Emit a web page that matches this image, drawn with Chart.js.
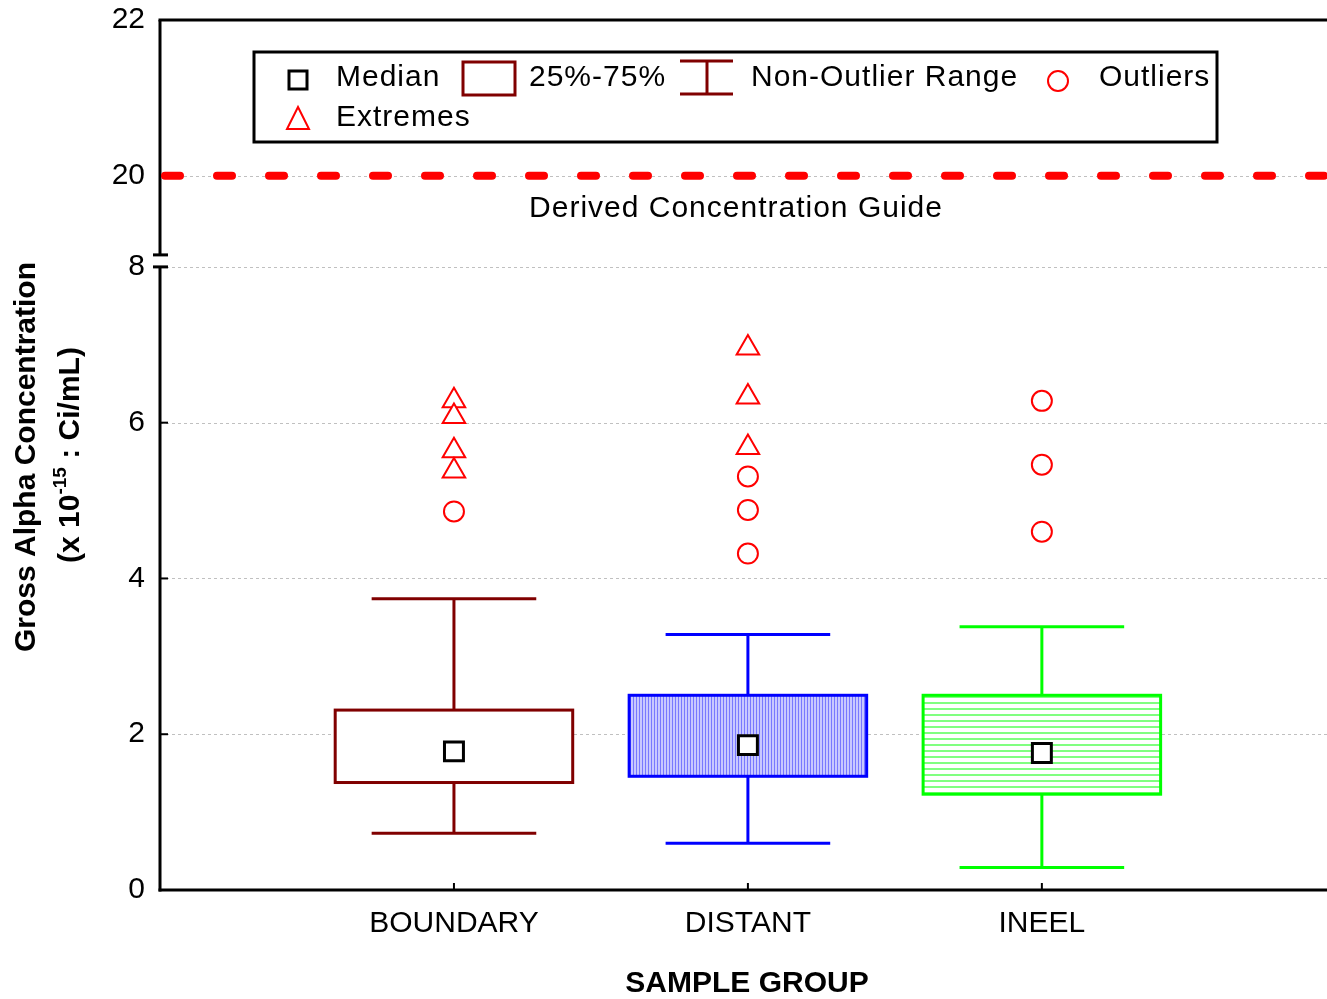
<!DOCTYPE html>
<html>
<head>
<meta charset="utf-8">
<title>Gross Alpha Concentration by Sample Group</title>
<script src="https://cdn.jsdelivr.net/npm/chart.js@4.4.0/dist/chart.umd.min.js"></script>
<style>
  html, body { margin: 0; padding: 0; background: #fff; }
  #chart { display: block; }
</style>
</head>
<body>
<canvas id="chart" width="1327" height="999"></canvas>
<script>
// Values (x 10^-15 uCi/mL)
const groups = ['BOUNDARY', 'DISTANT', 'INEEL'];
const whiskerLow = [0.73, 0.60, 0.29];
const quartile1 = [1.38, 1.46, 1.23];
const medians = [1.78, 1.86, 1.76];
const quartile3 = [2.31, 2.50, 2.50];
const whiskerHigh = [3.74, 3.28, 3.38];
const outliers = [[4.86], [5.31, 4.88, 4.32], [6.28, 5.46, 4.60]];
const extremes = [[6.28, 6.08, 5.64, 5.38], [6.96, 6.33, 5.68], []];

const yTickValues = [0, 2, 4, 6, 8, 20, 22];
const guideValue = 20;
const guideLabel = 'Derived Concentration Guide';

// Colours per group
const boxColors = ['#800000', '#0000ff', '#00ff00'];

// Broken axis: 0-8 to scale, then a jump up to 20-22
const BREAK_LOW = 8;
const BREAK_HIGH = 20;
const BREAK_GAP = 1.17;
function toAxis(v) {
    return v <= BREAK_LOW ? v : v - BREAK_HIGH + BREAK_LOW + BREAK_GAP;
}

const BOX_HALF = 0.404;
const CAP_HALF = 0.28;
const FONT = '"Liberation Sans", Arial, sans-serif';

function pointsFor(list) {
    const pts = [];
    list.forEach((vals, i) => vals.forEach(v => pts.push({ x: i + 1, y: toAxis(v) })));
    return pts;
}

function makePattern(ctx, kind) {
    const c = document.createElement('canvas');
    const p = c.getContext('2d');
    if (kind === 'vertical') {
        c.width = 3; c.height = 1;
        p.fillStyle = '#c8c8ff';
        p.fillRect(0, 0, 3, 1);
        p.fillStyle = '#7878ff';
        p.fillRect(0, 0, 1, 1);
    } else if (kind === 'horizontal') {
        c.width = 1; c.height = 6;
        p.fillStyle = '#ffffff';
        p.fillRect(0, 0, 1, 6);
        p.fillStyle = '#80ff80';
        p.fillRect(0, 0, 1, 2);
    } else {
        c.width = 1; c.height = 1;
        p.fillStyle = '#ffffff';
        p.fillRect(0, 0, 1, 1);
    }
    return ctx.createPattern(c, 'repeat');
}

function line(ctx, x1, y1, x2, y2) {
    ctx.beginPath();
    ctx.moveTo(x1, y1);
    ctx.lineTo(x2, y2);
    ctx.stroke();
}

// Boxes, whiskers, grid and all the decoration that Chart.js has no element for
const boxPlot = {
    id: 'boxPlot',
    beforeDatasetsDraw(chart) {
        const { ctx, chartArea: a, scales: { x, y } } = chart;
        const fills = [makePattern(ctx, 'plain'), makePattern(ctx, 'vertical'), makePattern(ctx, 'horizontal')];
        ctx.save();

        // dotted grid
        ctx.strokeStyle = '#c0c0c0';
        ctx.lineWidth = 1;
        ctx.setLineDash([3, 3]);
        yTickValues.slice(1, -1).forEach(v => {
            const py = Math.round(y.getPixelForValue(toAxis(v))) + 0.5;
            line(ctx, a.left, py, a.right, py);
        });
        ctx.setLineDash([]);

        groups.forEach((g, i) => {
            const cx = x.getPixelForValue(i + 1);
            const hw = x.getPixelForValue(i + 1 + BOX_HALF) - cx;
            const cw = x.getPixelForValue(i + 1 + CAP_HALF) - cx;
            const yLo = y.getPixelForValue(whiskerLow[i]);
            const yQ1 = y.getPixelForValue(quartile1[i]);
            const yQ3 = y.getPixelForValue(quartile3[i]);
            const yHi = y.getPixelForValue(whiskerHigh[i]);

            ctx.strokeStyle = boxColors[i];
            ctx.lineWidth = 3;
            line(ctx, cx, yHi, cx, yQ3);
            line(ctx, cx, yQ1, cx, yLo);
            line(ctx, cx - cw, yHi, cx + cw, yHi);
            line(ctx, cx - cw, yLo, cx + cw, yLo);

            ctx.fillStyle = fills[i];
            ctx.fillRect(cx - hw, yQ3, 2 * hw, yQ1 - yQ3);
            ctx.strokeRect(cx - hw, yQ3, 2 * hw, yQ1 - yQ3);
        });
        ctx.restore();
    },
    afterDraw(chart) {
        const { ctx, chartArea: a, scales: { x, y } } = chart;
        ctx.save();

        // frame: left axis (with break), bottom axis, top line
        const yBreakHi = y.getPixelForValue(toAxis(BREAK_LOW)) - 12;
        const yBreakLo = y.getPixelForValue(toAxis(BREAK_LOW));
        ctx.strokeStyle = '#000';
        ctx.lineWidth = 3;
        line(ctx, a.left, a.top, a.left, yBreakHi);
        line(ctx, a.left, yBreakLo, a.left, a.bottom + 1.5);
        line(ctx, a.left - 7, yBreakHi, a.left + 8, yBreakHi);
        line(ctx, a.left - 7, yBreakLo, a.left + 8, yBreakLo);
        line(ctx, a.left - 1.5, a.bottom, a.right, a.bottom);
        line(ctx, a.left - 1.5, a.top, a.right, a.top);

        // inside ticks
        ctx.lineWidth = 2;
        yTickValues.forEach(v => {
            if (v === BREAK_LOW || v === 0) return;
            const py = y.getPixelForValue(toAxis(v));
            line(ctx, a.left, py, a.left + 8, py);
        });
        groups.forEach((g, i) => {
            const px = x.getPixelForValue(i + 1);
            line(ctx, px, a.bottom, px, a.bottom - 7);
        });

        // guide line
        const gy = y.getPixelForValue(toAxis(guideValue));
        ctx.strokeStyle = '#ff0000';
        ctx.lineWidth = 8;
        ctx.lineCap = 'round';
        ctx.setLineDash([15, 37]);
        ctx.lineDashOffset = -3;
        line(ctx, a.left + 2, gy, a.right, gy);
        ctx.setLineDash([]);
        ctx.lineCap = 'butt';

        ctx.fillStyle = '#000';
        ctx.font = '30px ' + FONT;
        ctx.letterSpacing = '1px';
        ctx.textAlign = 'center';
        ctx.textBaseline = 'middle';
        ctx.fillText(guideLabel, 736, gy + 33);

        // legend
        ctx.fillStyle = '#fff';
        ctx.fillRect(254, 52, 963, 90);
        ctx.strokeStyle = '#000';
        ctx.lineWidth = 3;
        ctx.strokeRect(254, 52, 963, 90);

        ctx.fillStyle = '#fff';
        ctx.fillRect(289, 71, 18, 18);
        ctx.strokeRect(289, 71, 18, 18);

        ctx.strokeStyle = boxColors[0];
        ctx.strokeRect(463, 62, 52, 33);
        line(ctx, 680, 61, 733, 61);
        line(ctx, 680, 94, 733, 94);
        line(ctx, 707, 61, 707, 94);

        ctx.strokeStyle = '#ff0000';
        ctx.lineWidth = 2;
        ctx.beginPath();
        ctx.arc(1058, 81, 10, 0, Math.PI * 2);
        ctx.stroke();
        ctx.beginPath();
        ctx.moveTo(298, 107);
        ctx.lineTo(309, 129);
        ctx.lineTo(287, 129);
        ctx.closePath();
        ctx.stroke();

        ctx.fillStyle = '#000';
        ctx.textAlign = 'left';
        ctx.fillText('Median', 336, 78);
        ctx.fillText('25%-75%', 529, 78);
        ctx.fillText('Non-Outlier Range', 751, 78);
        ctx.fillText('Outliers', 1099, 78);
        ctx.fillText('Extremes', 336, 118);

        // axis titles
        ctx.font = 'bold 30px ' + FONT;
        ctx.letterSpacing = '0px';
        ctx.textAlign = 'center';
        ctx.fillText('SAMPLE GROUP', 747, 984);

        ctx.save();
        ctx.translate(27, 457);
        ctx.rotate(-Math.PI / 2);
        ctx.fillText('Gross Alpha Concentration', 0, 0);
        ctx.restore();

        ctx.save();
        ctx.translate(71, 455);
        ctx.rotate(-Math.PI / 2);
        const partA = '(x 10';
        const sup = '-15';
        const partB = ' : Ci/mL)';
        ctx.font = 'bold 30px ' + FONT;
        const wA = ctx.measureText(partA).width;
        const wB = ctx.measureText(partB).width;
        ctx.font = 'bold 19px ' + FONT;
        const wS = ctx.measureText(sup).width;
        let tx = -(wA + wS + wB) / 2;
        ctx.textAlign = 'left';
        ctx.font = 'bold 30px ' + FONT;
        ctx.fillText(partA, tx, 0);
        tx += wA;
        ctx.font = 'bold 19px ' + FONT;
        ctx.fillText(sup, tx, -10);
        tx += wS;
        ctx.font = 'bold 30px ' + FONT;
        ctx.fillText(partB, tx, 0);
        ctx.restore();

        ctx.restore();
    }
};

const ctx = document.getElementById('chart').getContext('2d');
new Chart(ctx, {
    type: 'scatter',
    data: {
        datasets: [
            {
                label: 'Outliers',
                data: pointsFor(outliers),
                pointStyle: 'circle',
                pointRadius: 10,
                borderColor: '#ff0000',
                backgroundColor: '#ffffff',
                borderWidth: 2
            },
            {
                label: 'Extremes',
                data: pointsFor(extremes),
                pointStyle: 'triangle',
                pointRadius: 13,
                borderColor: '#ff0000',
                backgroundColor: '#ffffff',
                borderWidth: 2
            },
            {
                label: 'Median',
                data: medians.map((m, i) => ({ x: i + 1, y: toAxis(m) })),
                pointStyle: 'rect',
                pointRadius: 13.4,
                borderColor: '#000000',
                backgroundColor: '#ffffff',
                borderWidth: 3
            }
        ]
    },
    options: {
        responsive: false,
        animation: false,
        layout: { autoPadding: false, padding: { top: 20, left: 0, right: 0, bottom: 0 } },
        plugins: {
            legend: { display: false },
            tooltip: { enabled: false }
        },
        scales: {
            x: {
                type: 'linear',
                min: 0,
                max: 3.97,
                afterBuildTicks: s => { s.ticks = groups.map((g, i) => ({ value: i + 1 })); },
                afterFit: s => { s.height = 109; s.paddingLeft = 0; s.paddingRight = 0; },
                ticks: {
                    callback: (v, i) => groups[i],
                    color: '#000',
                    font: { family: FONT, size: 30 },
                    padding: 16,
                    maxRotation: 0,
                    autoSkip: false
                },
                grid: { display: false, drawTicks: false },
                border: { display: false }
            },
            y: {
                type: 'linear',
                min: 0,
                max: toAxis(22),
                afterBuildTicks: s => { s.ticks = yTickValues.map(v => ({ value: toAxis(v) })); },
                afterFit: s => { s.width = 160; s.paddingTop = 0; s.paddingBottom = 0; },
                ticks: {
                    callback: (v, i) => String(yTickValues[i]),
                    color: '#000',
                    font: { family: FONT, size: 30 },
                    padding: 15,
                    autoSkip: false
                },
                grid: { display: false, drawTicks: false },
                border: { display: false }
            }
        }
    },
    plugins: [boxPlot]
});
</script>
</body>
</html>
